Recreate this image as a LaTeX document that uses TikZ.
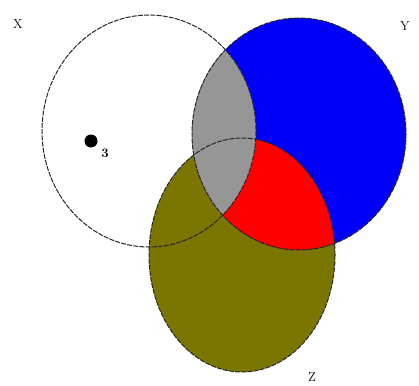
\documentclass[tikz,border=0pt]{standalone}
\usepackage{xcolor}
\usepackage{tikz}
\usetikzlibrary{positioning}
\definecolor{setblue}{RGB}{0,0,250}
\definecolor{setred}{RGB}{255,0,0}
\definecolor{setgray}{RGB}{150,150,150}
\definecolor{setolive}{RGB}{122,118,0}
\begin{document}
\begin{tikzpicture}[x=1pt,y=-1pt,
  outline/.style={draw=black!85,line width=1pt,dash pattern=on 5pt off 1.2pt},
  setlabel/.style={font=\fontsize{13}{15}\selectfont,inner sep=0pt},
  elem/.style={circle,fill=black,inner sep=0pt,minimum size=13pt}
]
\useasboundingbox (0,0) rectangle (419,385);
\coordinate (cx) at (149,131);
\coordinate (cy) at (299,134);
\coordinate (cz) at (242,255);
% regions
\fill[setolive] (cz) ellipse [x radius=93,y radius=117];
\fill[setblue] (cy) ellipse [x radius=107,y radius=116];
\begin{scope}
  \clip (cz) ellipse [x radius=93,y radius=117];
  \fill[setred] (cy) ellipse [x radius=107,y radius=116];
\end{scope}
\begin{scope}
  \clip (cx) ellipse [x radius=107,y radius=116];
  \fill[setgray] (cy) ellipse [x radius=107,y radius=116];
\end{scope}
% outlines
\draw[outline] (cx) ellipse [x radius=107,y radius=116];
\draw[outline] (cy) ellipse [x radius=107,y radius=116];
\draw[outline] (cz) ellipse [x radius=93,y radius=117];
% labels
\node[setlabel] (lx) at (18,24) {X};
\node[setlabel] (ly) at (405,26) {Y};
\node[setlabel] (lz) at (312,377) {Z};
\node[elem] (e3) at (91,141) {};
\node[setlabel,font=\fontsize{13}{15}\selectfont\bfseries] (n3) at (105,153) {3};
\end{tikzpicture}
\end{document}
